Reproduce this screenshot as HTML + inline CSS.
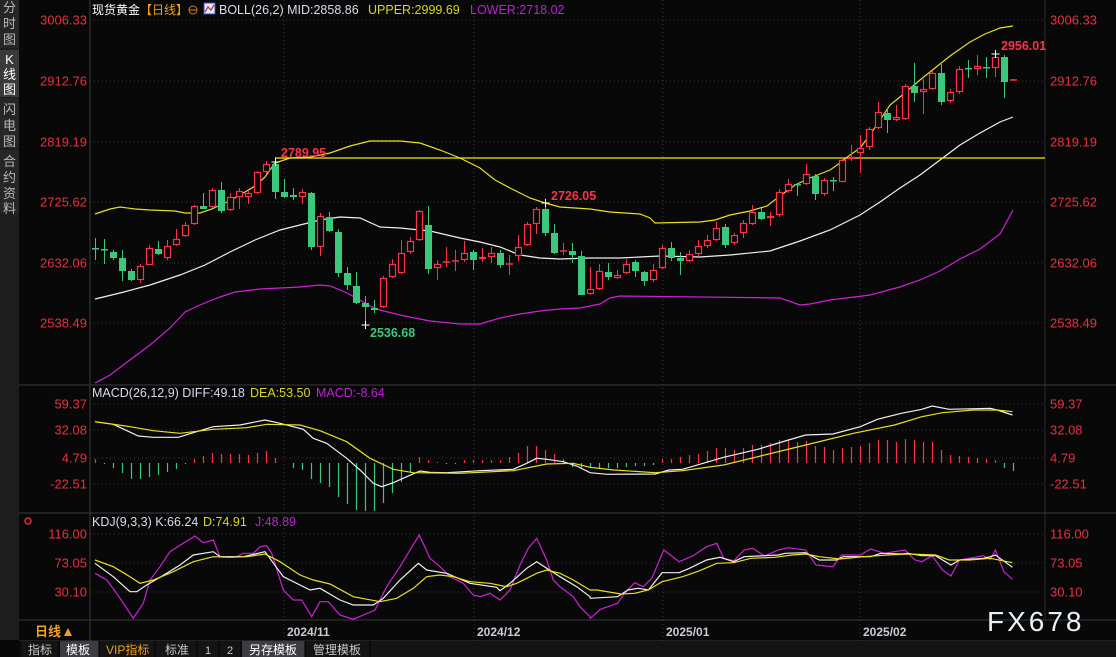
<!DOCTYPE html>
<html><head><meta charset="utf-8"><style>
html,body{margin:0;padding:0;background:#080808;}
svg{display:block;}
text{font-family:"Liberation Sans","Noto Sans CJK SC",sans-serif;}
</style></head><body>
<svg id="s" width="1116" height="657" xmlns="http://www.w3.org/2000/svg">
<rect width="1116" height="657" fill="#080808"/>
</svg>
<script>
var S=document.getElementById('s'),NS='http://www.w3.org/2000/svg';
function el(t,a,txt){var e=document.createElementNS(NS,t);for(var k in a)e.setAttribute(k,a[k]);if(txt!=null)e.textContent=txt;S.appendChild(e);return e;}
function line(x1,y1,x2,y2,c,w,d){var a={x1:x1,y1:y1,x2:x2,y2:y2,stroke:c,'stroke-width':w||1};if(d)a['stroke-dasharray']=d;el('line',a);}
function poly(p,c){el('polyline',{points:p.map(function(q){return q[0].toFixed(1)+','+q[1].toFixed(1)}).join(' '),fill:'none',stroke:c,'stroke-width':1.2});}
function tx(x,y,s,c,sz,anc,extra){var a={x:x,y:y,fill:c,'font-size':sz||12};if(anc)a['text-anchor']=anc;for(var k in extra)a[k]=extra[k];el('text',a,s);}
function z6(a){return a.map(function(p){return[80+p[0]/3,380+p[1]/3]});}
function z7(a){return a.map(function(p){return[580+p[0]/2.925,380+p[1]/3]});}

// sidebar
el('rect',{x:0,y:0,width:19,height:640,fill:'#1e1e1e'});
[[0,48],[98,148],[150,212]].forEach(function(r){el('rect',{x:0,y:r[0],width:19,height:r[1]-r[0],fill:'#262626'});});
el('rect',{x:0,y:50,width:19,height:47,fill:'#3a3a3a'});
var side=[['分',12],['时',28],['图',44],['K',64],['线',79],['图',94],['闪',114],['电',130],['图',146],['合',166],['约',182],['资',198],['料',213]];
side.forEach(function(s){tx(9.5,s[1],s[0],s[0]=='K'||s[1]==79||s[1]==94?'#ffffff':'#b8b8b8',13,'middle');});
el('circle',{cx:28,cy:521,r:3,fill:'none',stroke:'#e03040','stroke-width':1.5});

// frame lines
line(90,0,90,620,'#3a3a3a',1);
line(1045,0,1045,620,'#2a2a2a',1);
line(19,385,1116,385,'#3a3a3a',1);
line(19,513,1116,513,'#3a3a3a',1);
line(19,620,1116,620,'#3a3a3a',1);
line(19,641,1116,641,'#3a3a3a',1);

// grids
var G='#3a3a3a',D='1,3';
[20,81,142,202,263,323].forEach(function(y){line(90,y,1045,y,G,1,D);});
[404,430,458,484].forEach(function(y){line(90,y,1045,y,G,1,D);});
[534,563,592].forEach(function(y){line(90,y,1045,y,G,1,D);});
[284,474,663,860].forEach(function(x){line(x,0,x,641,G,1,D);});

// axis labels
var R='#e8303f';
[['3006.33',20],['2912.76',81],['2819.19',142],['2725.62',202],['2632.06',263],['2538.49',323],
 ['59.37',404],['32.08',430],['4.79',458],['-22.51',484],['116.00',534],['73.05',563],['30.10',592]].forEach(function(l){
 tx(87,l[1]+4.5,l[0],R,13,'end');tx(1050,l[1]+4.5,l[0],R,13);});

// header
tx(92,14,'现货黄金','#ffffff',12);
tx(140,14,'【日线】','#f0a020',12);
el('circle',{cx:193,cy:10,r:4,fill:'none',stroke:'#d08020','stroke-width':1});
line(189,10,197,10,'#d08020',1);
el('rect',{x:204,y:3,width:11,height:11,fill:'#e8e8f8',stroke:'#3050c0'});
poly([[205,12],[208,7],[211,10],[214,5]],'#d02020');
tx(219,14,'BOLL(26,2) MID:2858.86','#d8dcec',12.5);
tx(368,14,'UPPER:2999.69','#d8d820',12.5);
tx(470,14,'LOWER:2718.02','#c020d8',12.5);
tx(92,397,'MACD(26,12,9) DIFF:49.18','#d8dcec',12.5);
tx(250,397,'DEA:53.50','#d8d820',12.5);
tx(316,397,'MACD:-8.64','#c020d8',12.5);
tx(92,526,'KDJ(9,3,3) K:66.24','#d8dcec',12.5);
tx(203,526,'D:74.91','#d8d820',12.5);
tx(255,526,'J:48.89','#c020d8',12.5);

// BOLL bands
poly([[95,214],[110,209],[120,207],[135,209],[150,210],[175,211],[185,213],[200,213],[212,209],[225,203],[240,195],[255,186],[265,177],[275,163],[290,158],[310,157],[330,153],[350,146],[370,141],[400,141],[420,143],[440,150],[460,158],[480,168],[495,180],[510,188],[530,198],[545,203],[560,207],[590,209],[610,212],[640,214],[650,218],[655,223],[700,222],[715,220],[730,215],[750,211],[767,206],[780,196],[795,185],[810,178],[830,170],[840,163],[850,155],[860,148],[870,135],[880,120],[890,105],[900,97],[920,80],[935,68],[950,56],[970,42],[985,34],[1000,28],[1013,26]],'#e8e020');
poly([[95,299],[120,293],[150,285],[180,275],[205,265],[230,252],[255,240],[280,230],[300,225],[320,220],[340,217],[360,218],[380,227],[400,228],[430,231],[460,238],[480,242],[500,247],[520,255],[540,258],[560,259],[590,258],[620,258],[660,256],[700,257],[730,255],[770,251],[800,241],[830,230],[860,215],[880,202],[900,188],[920,175],[940,160],[960,145],[980,133],[1000,122],[1013,117]],'#f0f0f0');
poly([[95,383],[110,375],[130,360],[150,345],[170,328],[185,312],[200,305],[220,297],[235,292],[260,289],[300,287],[320,285],[330,286],[345,292],[360,300],[370,306],[380,310],[400,315],[430,321],[460,324],[480,324],[500,318],[520,314],[540,311],[560,309],[580,308],[600,304],[610,298],[620,296],[780,298],[800,305],[810,304],[830,300],[870,295],[900,287],[920,280],[940,271],[960,259],[980,249],[1000,234],[1013,210]],'#d020d8');
line(275,158,1045,158,'#f0f000',1.3);

// candles
var C=[['g',248,249,238,260],['g',249,250,239,264],['g',252,258,250,260],['g',258,271,250,281],['g',271,280,269,281],['r',266,280,264,283],['r',248,265,245,265],['g',249,254,241,255],['r',246,258,240,260],['r',239,245,229,246],['r',225,236,222,237],['r',206,224,205,225],['g',206,209,193,209],['r',190,207,188,208],['g',190,211,182,213],['r',197,210,193,211],['r',191,197,188,209],['r',193,197,190,204],['r',172,193,171,194],['r',164,172,161,174],['g',164,192,161,199],['g',192,197,179,198],['g',195,197,188,200],['r',192,197,189,204],['g',193,247,192,250],['r',216,247,213,256],['g',217,231,212,232],['g',232,273,229,277],['g',273,285,267,290],['g',286,303,272,304],['g',303,307,296,325],['g',308,310,300,313],['r',278,307,276,308],['r',264,277,259,278],
['r',253,273,240,274],['r',241,252,237,254],['r',211,240,210,241],['g',225,269,206,274],['r',264,268,260,280],['r',262,263,247,267],['r',261,262,250,271],['r',253,260,241,262],['g',252,260,250,270],['r',257,259,248,262],['r',253,257,247,263],['g',253,265,250,268],['r',264,265,255,275],['r',247,256,235,261],['r',224,245,222,246],['r',209,224,207,234],['g',209,233,203,236],['g',233,253,224,254],['r',251,252,243,255],['g',251,255,243,263],['g',256,295,251,295],['r',289,294,267,295],['r',271,289,264,290],['g',272,277,263,280],['r',275,278,270,279],['r',264,273,259,274],['g',262,271,260,277],['g',272,281,271,286],['r',270,280,264,282],['r',248,268,245,269],['g',248,258,242,261],['g',258,261,252,275],['r',254,261,250,262],['r',246,254,240,256],['r',240,246,235,248],['r',228,240,222,241],
['g',227,245,224,248],['r',235,243,233,245],['r',223,233,220,238],['r',212,224,205,225],['g',212,219,208,220],['r',216,218,212,226],['r',192,215,189,217],['r',184,191,179,193],['g',184,185,183,196],['r',174,184,164,185],['g',176,194,174,200],['r',180,194,178,196],['g',180,181,177,191],['r',160,182,157,182],['r',157,159,145,161],['r',148,153,135,173],['r',129,147,127,150],['r',112,128,102,129],['g',113,120,108,133],['r',117,120,105,121],['r',86,119,84,120],['g',86,93,63,102],['r',89,92,79,114],['r',73,89,71,90],['g',73,102,64,105],['r',92,101,89,103],['r',69,92,66,94],['g',68,69,60,78],['r',66,69,55,75],['g',67,68,57,78],['r',57,68,54,77],['g',57,82,55,98],['r',80,81,79,81]];
var UP='#ff3048',DN='#3cc87c';
C.forEach(function(c,i){var x=Math.round(95+9*i)+0.5,col=c[0]=='r'?UP:DN;
 if(c[0]=='r'){line(x,c[3],x,c[1],col,1);line(x,c[2],x,c[4],col,1);
  if(c[2]-c[1]<2)line(x-3.5,c[1],x+3.5,c[1],col,1.5);else el('rect',{x:x-3,y:c[1]+0.5,width:6,height:c[2]-c[1]-1,fill:'#080808',stroke:col,'stroke-width':1.2});}
 else{line(x,c[3],x,c[4],col,1);el('rect',{x:x-3.5,y:c[1],width:7,height:Math.max(1.5,c[2]-c[1]),fill:col});}
});
function cross(x,y){line(x-4,y,x+4,y,'#fff',1);line(x,y-4,x,y+4,'#fff',1);}
cross(275.5,162);cross(545.5,203);cross(365.5,325);cross(995.5,54);
tx(281,157,'2789.95','#ff3048',12.5,null,{'font-weight':'bold'});
tx(551,200,'2726.05','#ff3048',12.5,null,{'font-weight':'bold'});
tx(370,337,'2536.68','#3cc87c',12.5,null,{'font-weight':'bold'});
tx(1001,50,'2956.01','#ff3048',12.5,null,{'font-weight':'bold'});

// MACD
var DIFF=z6([[45,125],[100,133],[175,168],[220,172],[295,172],[340,158],[400,140],[480,135],[555,120],[600,130],[670,148],[700,175],[740,190],[800,235],[840,270],[880,310],[905,320],[940,308],[980,290],[1020,273],[1050,277],[1100,278],[1200,272],[1300,268],[1340,250],[1370,235],[1400,238],[1450,245],[1490,258],[1530,278]]).concat(z7([[80,283],[220,282],[260,270],[300,268],[420,232],[520,208],[600,183],[660,165],[740,162],[820,140],[870,118],[940,100],[1000,88],[1030,78],[1080,88],[1200,85],[1220,90],[1265,105]]));
var DEA=z6([[45,125],[150,140],[220,152],[300,160],[400,148],[500,143],[560,133],[660,135],[720,152],[800,185],[870,235],[940,268],[1000,278],[1140,280],[1300,272],[1400,252],[1480,250],[1530,262]]).concat(z7([[100,270],[220,278],[300,272],[420,255],[520,230],[660,195],[800,160],[920,135],[1000,110],[1060,98],[1150,90],[1220,90],[1265,95]]));
var H=[4,-1,-5,-10,-16,-16,-14,-12,-9,-6,-1,4,7,10,9,9,9,8,10,12,5,0,-5,-7,-16,-20,-24,-34,-41,-47,-48,-48,-40,-30,-19,-9,6,3,1,-1,-1,3,3,3,3,3,6,10,17,17,13,9,4,-4,-5,-5,-5,-5,-5,-4,-3,-3,-2,
4,4,6,8,9,12,15,15,13,15,18,18,20,23,22,21,22,17,16,13,15,16,17,20,23,23,21,24,23,21,21,13,8,7,6,5,4,3,-5,-8];
H.forEach(function(h,i){var x=Math.round(95+9*i)+0.5;if(h!=0)line(x,463,x,463-h,h>0?UP:DN,1.2);});
poly(DIFF,'#f0f0f0');poly(DEA,'#e8e020');

// KDJ
var K=z6([[45,550],[100,590],[150,635],[170,635],[200,615],[260,580],[300,555],[340,525],[400,515],[420,530],[490,530],[555,515],[610,590],[690,630],[720,625],[780,660],[820,675],[880,675],[910,655],[960,600],[1015,550],[1040,570],[1100,580],[1170,610],[1250,622],[1260,632],[1290,610],[1340,565],[1370,545],[1400,565],[1440,590],[1490,620],[1530,650]]).concat(z7([[30,655],[110,650],[140,630],[170,625],[200,630],[240,578],[290,578],[320,565],[370,540],[410,532],[450,545],[480,530],[580,525],[600,520],[660,518],[700,540],[750,540],[770,530],[850,530],[880,520],[940,522],[960,520],[1000,527],[1040,527],[1085,555],[1110,540],[1180,535],[1200,530],[1215,525],[1265,562]]));
var Dd=z6([[45,540],[100,560],[150,590],[180,610],[220,600],[280,575],[340,545],[400,530],[450,532],[500,530],[555,522],[600,545],[660,585],[700,600],[750,612],[820,650],[900,665],[950,655],[1000,625],[1040,590],[1080,585],[1120,590],[1170,605],[1230,610],[1280,620],[1310,610],[1370,580],[1400,570],[1440,580],[1480,600],[1530,630]]).concat(z7([[50,630],[120,642],[160,640],[200,630],[240,605],[300,590],[350,572],[400,550],[450,548],[500,535],[570,532],[620,525],[660,522],[700,530],[760,537],[830,530],[900,525],[960,522],[1040,525],[1080,540],[1140,540],[1200,535],[1265,548]]));
var J=z6([[45,580],[80,600],[110,640],[150,700],[160,715],[190,670],[210,600],[240,560],[270,515],[310,490],[345,468],[370,488],[400,480],[420,530],[470,530],[490,520],[520,520],[540,500],[560,497],[575,520],[610,630],[640,660],[665,660],[695,710],[720,665],[745,665],[780,705],[820,718],[850,705],[885,690],[920,620],[960,560],[990,510],[1018,465],[1050,535],[1080,560],[1110,590],[1150,610],[1180,645],[1200,650],[1230,640],[1260,660],[1290,630],[1320,555],[1345,505],[1370,475],[1400,540],[1420,600],[1440,620],[1480,650],[1500,680],[1530,710]]).concat(z7([[30,715],[60,688],[110,670],[130,640],[160,608],[185,620],[210,595],[245,510],[290,545],[330,528],[370,500],[400,490],[420,535],[450,542],[480,510],[505,505],[540,528],[580,510],[610,503],[660,510],[690,555],[740,560],[765,525],[820,525],[850,507],[890,520],[950,510],[980,540],[1000,545],[1030,527],[1060,570],[1085,588],[1110,540],[1180,527],[1200,538],[1215,510],[1240,575],[1265,598]]));
poly(J,'#d020d8');poly(K,'#f0f0f0');poly(Dd,'#e8e020');

// date row
line(90,620,90,641,'#3a3a3a',1);
tx(35,636,'日线','#f0a020',13,null,{'font-weight':'bold'});
el('polygon',{points:'64,636 68,628 72,636',fill:'#f0a020'});
[['2024/11',287],['2024/12',477],['2025/01',666],['2025/02',863]].forEach(function(d){tx(d[1],636,d[0],'#c8ccd4',12,null,{'font-weight':'bold'});});
tx(987,631,'FX678','#e8f0f8',28,null,{'letter-spacing':'3'});

// tab bar
el('rect',{x:19,y:641,width:1097,height:16,fill:'#141414'});
el('rect',{x:60,y:641,width:39,height:16,fill:'#3c3c44'});
el('rect',{x:242,y:641,width:63,height:16,fill:'#3c3c44'});
[20,59,99,155,197,219,241,305,370].forEach(function(x){line(x,641,x,657,'#000',1);});
tx(28,654,'指标','#c8c8c8',12);
tx(66,654,'模板','#ffffff',12);
tx(106,654,'VIP指标','#f0a020',12);
tx(165,654,'标准','#c8c8c8',12);
tx(205,654,'1','#c8c8c8',11);
tx(227,654,'2','#c8c8c8',11);
tx(249,654,'另存模板','#ffffff',12);
tx(313,654,'管理模板','#c8c8c8',12);
</script>
</body></html>
